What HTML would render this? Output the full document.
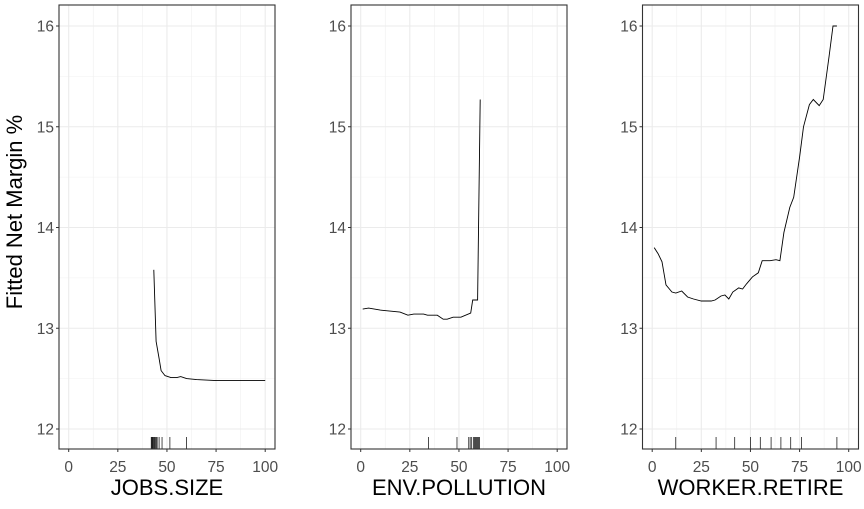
<!DOCTYPE html>
<html><head><meta charset="utf-8"><style>
body{margin:0;background:#fff;width:864px;height:504px;overflow:hidden}
text{font-family:"Liberation Sans",Arial,sans-serif}
</style></head><body>
<svg id="c" width="864" height="504"></svg>
<script>
const yTicks=[12,13,14,15,16];
const xTicks=[0,25,50,75,100];
const titles=["JOBS.SIZE","ENV.POLLUTION","WORKER.RETIRE"];
const p1x=[43.3,44.5,46,47,49,52,55,57,60,65,75,85,100];
const p1y=[13.58,12.87,12.7,12.58,12.53,12.51,12.51,12.52,12.5,12.49,12.48,12.48,12.48];
const p1rug=[42,42.4,42.8,43.2,43.6,44,44.5,45,46,47.5,51.5,60];
const p2x=[1,4,10,20,24,27,32,34,39,42,44,47,51,56,57,59.5,60.8];
const p2y=[13.19,13.2,13.18,13.16,13.13,13.14,13.14,13.13,13.13,13.09,13.09,13.11,13.11,13.15,13.28,13.28,15.27];
const p2rug=[34.5,49,55,55.7,56.5,57.5,58,58.5,59,59.5,60,60.5];
const p3x=[1,3,5,7,10,12,15,18,21,25,30,32,35,37,39,41,44,46,48,51,54,56,60,63,65,67,70,72,75,77,80,82,85,87,90,92,94];
const p3y=[13.8,13.74,13.66,13.43,13.36,13.35,13.37,13.31,13.29,13.27,13.27,13.28,13.32,13.33,13.29,13.36,13.4,13.39,13.44,13.51,13.55,13.67,13.67,13.68,13.67,13.95,14.2,14.3,14.7,15.0,15.22,15.27,15.21,15.27,15.7,16.0,16.0];
const p3rug=[12,32.5,42,50,55,60.5,65.5,70.5,76,94];
const panels=[[p1x,p1y,p1rug],[p2x,p2y,p2rug],[p3x,p3y,p3rug]];
const lefts=[59,351,642.5];
const W=216,T=5,B=449;
const NS="http://www.w3.org/2000/svg";
const svg=document.getElementById('c');
function mk(t,a,p){const e=document.createElementNS(NS,t);for(const k in a)e.setAttribute(k,a[k]);(p||svg).appendChild(e);return e;}
function ys(v){return 429-(v-12)*100.75;}
panels.forEach((pd,i)=>{
  const L=lefts[i];
  const xs=v=>L+9.7+v*1.965;
  const g=mk('g',{});
  
  
  [12.5,13.5,14.5,15.5].forEach(v=>mk('line',{x1:L,x2:L+W,y1:ys(v),y2:ys(v),stroke:'#f0f0f0','stroke-width':0.6},g));
  [12.5,37.5,62.5,87.5].forEach(v=>mk('line',{x1:xs(v),x2:xs(v),y1:T,y2:B,stroke:'#f0f0f0','stroke-width':0.6},g));
  yTicks.forEach(v=>mk('line',{x1:L,x2:L+W,y1:ys(v),y2:ys(v),stroke:'#ebebeb','stroke-width':1.1},g));
  xTicks.forEach(v=>mk('line',{x1:xs(v),x2:xs(v),y1:T,y2:B,stroke:'#ebebeb','stroke-width':1.1},g));
  const d=pd[0].map((x,j)=>(j?'L':'M')+xs(x).toFixed(1)+' '+ys(pd[1][j]).toFixed(1)).join(' ');
  const ln=mk('path',{d:d,fill:'none',stroke:'#000','stroke-width':0.9},g);
  
  
  pd[2].forEach(r=>{const rl=mk('line',{x1:xs(r),x2:xs(r),y1:437,y2:449,stroke:'#000','stroke-width':0.7},g);
    
    });
  mk('rect',{x:L,y:T,width:W,height:B-T,fill:'none',stroke:'#333','stroke-width':1.1},g);
  yTicks.forEach(v=>{mk('line',{x1:L-3,x2:L,y1:ys(v),y2:ys(v),stroke:'#333'},g);
    const t=mk('text',{x:L-5,y:ys(v)+5.5,'text-anchor':'end','font-size':15.5,fill:'#4d4d4d'},g);t.textContent=v;
    
    });
  xTicks.forEach(v=>{mk('line',{x1:xs(v),x2:xs(v),y1:B,y2:B+3,stroke:'#333'},g);
    const t=mk('text',{x:xs(v),y:472,'text-anchor':'middle','font-size':15.5,fill:'#4d4d4d'},g);t.textContent=v;
    
    });
  const tt=mk('text',{x:L+W/2,y:495,'text-anchor':'middle','font-size':22,fill:'#000'},g);tt.textContent=titles[i];
  
  
});
const yt=mk('text',{x:0,y:0,transform:'translate(22,212) rotate(-90)','text-anchor':'middle','font-size':22,fill:'#000'});
yt.textContent='Fitted Net Margin %';


</script>
</body></html>
